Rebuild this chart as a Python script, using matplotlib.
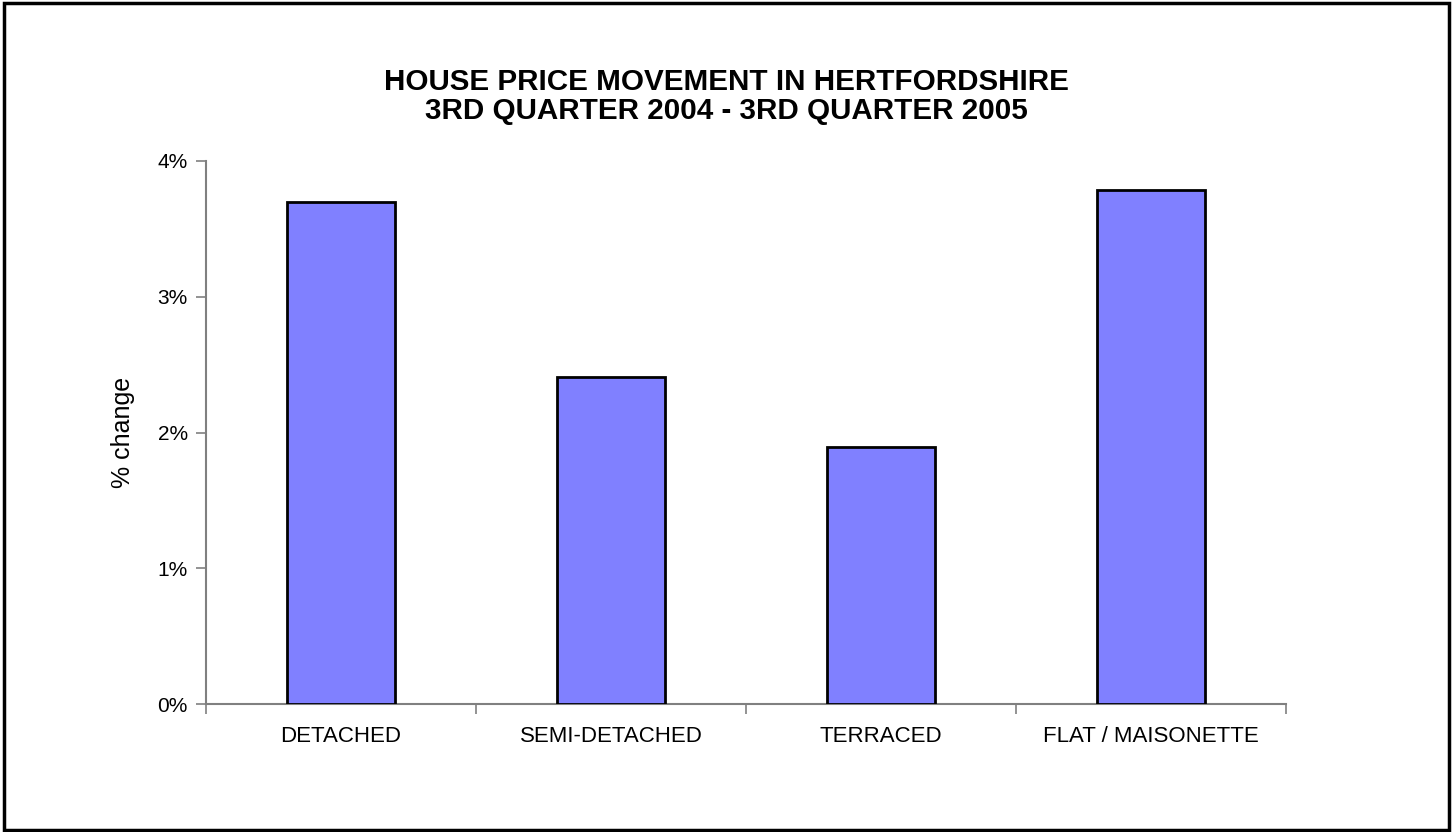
import matplotlib.pyplot as plt
from matplotlib.patches import Rectangle
from matplotlib.ticker import FuncFormatter

# house price change by property type, Q3 2004 -> Q3 2005
categories = ["DETACHED", "SEMI-DETACHED", "TERRACED", "FLAT / MAISONETTE"]
pct_change = [3.70, 2.41, 1.89, 3.79]

plt.rcParams['font.family'] = ['Liberation Sans', 'DejaVu Sans']

fig = plt.figure(figsize=(14.53, 8.32), dpi=100)
ax = fig.add_axes([0.1418, 0.1538, 0.7433, 0.6527])

x = list(range(len(categories)))
ax.bar(x, pct_change, width=0.4, color='#8080FF', edgecolor='black', linewidth=2, zorder=3)

ax.set_xlim(-0.5, len(categories) - 0.5)
ax.set_ylim(0, 4)
ax.set_yticks([0, 1, 2, 3, 4])
ax.yaxis.set_major_formatter(FuncFormatter(lambda v, p: f"{v:.0f}%"))

# category labels sit between the boundary ticks
ax.set_xticks([i + 0.5 for i in range(-1, len(categories))])
ax.set_xticklabels([])
ax.set_xticks(x, minor=True)
ax.set_xticklabels(categories, minor=True, fontsize=16)
ax.tick_params(axis='x', which='minor', length=0, pad=16)
ax.tick_params(axis='x', which='major', length=7, width=1.2, color='#808080', direction='out')
ax.tick_params(axis='y', length=7, width=1.2, color='#808080', labelsize=15, pad=6)

for side in ['top', 'right']:
    ax.spines[side].set_visible(False)
for side in ['left', 'bottom']:
    ax.spines[side].set_color('#808080')
    ax.spines[side].set_linewidth(1.5)

ax.set_ylabel("% change", fontsize=18, labelpad=16)

fig.text(0.5, 0.901, "HOUSE PRICE MOVEMENT IN HERTFORDSHIRE", ha='center', va='center',
         fontsize=21.3, fontweight='bold')
fig.text(0.5, 0.866, "3RD QUARTER 2004 - 3RD QUARTER 2005", ha='center', va='center',
         fontsize=21.3, fontweight='bold')

# outer frame
fig.patches.append(Rectangle((0.003, 0.003), 0.994, 0.993, transform=fig.transFigure,
                             fill=False, edgecolor='black', linewidth=2.5))

fig.savefig("out.png", dpi=100)
